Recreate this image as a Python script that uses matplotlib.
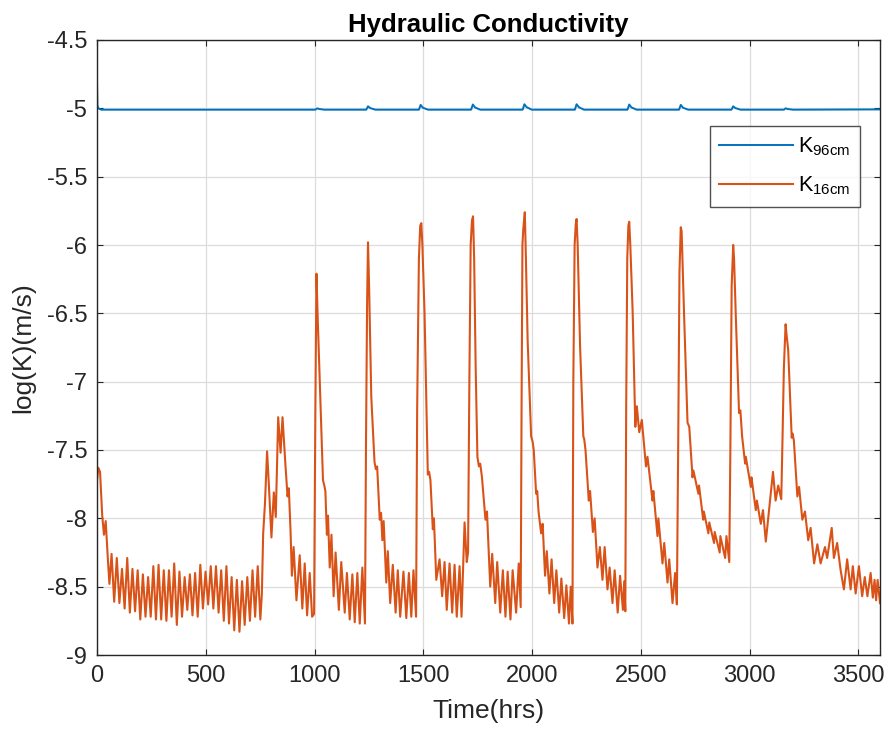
import matplotlib
matplotlib.use("Agg")
import matplotlib.pyplot as plt
from matplotlib.ticker import FuncFormatter, MultipleLocator

plt.rcParams['font.family'] = ['Liberation Sans', 'DejaVu Sans']
plt.rcParams['mathtext.fontset'] = 'custom'
plt.rcParams['mathtext.rm'] = 'Liberation Sans'
plt.rcParams['mathtext.it'] = 'Liberation Sans:italic'
plt.rcParams['axes.unicode_minus'] = False

# ---- K at 96 cm depth (hours, log10 K) ----
k96_hours = [0, 2, 6, 20,
             1004, 1013, 1022, 1045,
             1238, 1246, 1256, 1280,
             1480, 1488, 1498, 1522,
             1720, 1728, 1738, 1762,
             1957, 1965, 1975, 1999,
             2197, 2205, 2215, 2239,
             2439, 2447, 2457, 2481,
             2676, 2684, 2694, 2718,
             2917, 2925, 2935, 2959,
             3158, 3166, 3176, 3200,
             3600]
k96_logk = [-4.80, -4.98, -5.00, -5.010,
            -5.010, -5.000, -5.005, -5.010,
            -5.010, -4.985, -4.998, -5.010,
            -5.010, -4.975, -4.995, -5.010,
            -5.010, -4.972, -4.993, -5.010,
            -5.010, -4.970, -4.991, -5.010,
            -5.010, -4.970, -4.991, -5.010,
            -5.010, -4.972, -4.993, -5.010,
            -5.010, -4.975, -4.995, -5.010,
            -5.010, -4.985, -4.998, -5.010,
            -5.010, -5.000, -5.005, -5.010,
            -5.008]

# ---- K at 16 cm depth, one list of (hours, log10 K) per wetting cycle ----
k16_dry = [(0, -7.72), (6, -7.63), (14, -7.66), (24, -7.98), (32, -8.12), (40, -8.02),
           (50, -8.30), (57, -8.48),
           (67, -8.26), (79, -8.61), (91, -8.29), (103, -8.62), (115, -8.37), (127, -8.66),
           (139, -8.29), (151, -8.69), (163, -8.37), (175, -8.68), (187, -8.38), (199, -8.74),
           (211, -8.41), (223, -8.72), (235, -8.43), (247, -8.72), (259, -8.35), (271, -8.74),
           (283, -8.34), (295, -8.74), (307, -8.38), (319, -8.75), (331, -8.38), (343, -8.72),
           (355, -8.33), (367, -8.78), (379, -8.39), (391, -8.72), (403, -8.43), (415, -8.67),
           (427, -8.41), (439, -8.71), (451, -8.40), (463, -8.72), (475, -8.34), (487, -8.66),
           (499, -8.39), (511, -8.63), (523, -8.35), (535, -8.66), (547, -8.35), (559, -8.69),
           (571, -8.38), (583, -8.75), (595, -8.35), (607, -8.77), (619, -8.43), (631, -8.82),
           (643, -8.45), (655, -8.83), (667, -8.46), (679, -8.78), (691, -8.43), (703, -8.75),
           (715, -8.38), (727, -8.72), (739, -8.35), (751, -8.74)]
k16_event1 = [(758, -8.55), (764, -8.11), (772, -7.90), (782, -7.51), (790, -7.75), (802, -8.14),
              (813, -7.81), (822, -7.99), (833, -7.26), (844, -7.52), (853, -7.26), (866, -7.60),
              (876, -7.84), (882, -7.78), (890, -8.10), (896, -8.42), (904, -8.21), (917, -8.60),
              (932, -8.27), (944, -8.66), (955, -8.33), (966, -8.71), (978, -8.40), (989, -8.72),
              (998, -8.70)]
k16_event2 = [(1004, -7.20), (1009, -6.21), (1014, -6.50), (1024, -6.99), (1039, -7.72),
              (1045, -7.76), (1050, -7.80), (1057, -8.12), (1062, -7.98), (1070, -8.36),
              (1078, -8.12), (1088, -8.57), (1097, -8.25), (1112, -8.67), (1123, -8.32),
              (1139, -8.69), (1149, -8.40), (1162, -8.74), (1174, -8.41), (1185, -8.76),
              (1197, -8.40), (1208, -8.77), (1220, -8.36), (1232, -8.77)]
k16_event3 = [(1237, -7.40), (1242, -6.40), (1246, -5.98), (1251, -6.30), (1261, -7.11),
              (1276, -7.59), (1282, -7.64), (1288, -7.62), (1300, -8.01), (1306, -7.96),
              (1312, -8.16), (1318, -8.02), (1330, -8.47), (1337, -8.24), (1348, -8.62),
              (1360, -8.34), (1373, -8.69), (1383, -8.38), (1394, -8.72), (1409, -8.39),
              (1422, -8.73), (1434, -8.40), (1445, -8.72), (1455, -8.38), (1467, -8.72)]
k16_event4 = [(1472, -7.20), (1480, -6.10), (1486, -5.86), (1491, -5.84), (1496, -6.00),
              (1506, -6.50), (1521, -7.68), (1527, -7.66), (1533, -7.72), (1544, -8.08),
              (1549, -8.00), (1560, -8.45), (1575, -8.30), (1587, -8.57), (1598, -8.32),
              (1608, -8.67), (1621, -8.33), (1633, -8.69), (1644, -8.34), (1654, -8.72),
              (1667, -8.35), (1676, -8.72), (1690, -8.03), (1700, -8.32), (1706, -8.25)]
k16_event5 = [(1712, -7.00), (1718, -6.00), (1724, -5.82), (1729, -5.79), (1734, -6.10),
              (1741, -6.90), (1749, -7.55), (1756, -7.62), (1762, -7.60), (1770, -7.70),
              (1786, -8.01), (1793, -7.95), (1808, -8.50), (1817, -8.26), (1831, -8.62),
              (1840, -8.32), (1854, -8.69), (1866, -8.38), (1878, -8.72), (1888, -8.39),
              (1901, -8.74), (1911, -8.38), (1927, -8.69), (1939, -8.33), (1948, -8.65)]
k16_event6 = [(1952, -7.20), (1956, -6.00), (1960, -5.88), (1967, -5.76), (1972, -6.10),
              (1980, -6.70), (1996, -7.40), (2003, -7.44), (2008, -7.50), (2019, -7.82),
              (2024, -7.80), (2030, -7.95), (2042, -8.11), (2049, -8.04), (2060, -8.42),
              (2068, -8.24), (2080, -8.55), (2090, -8.30), (2102, -8.62), (2112, -8.38),
              (2125, -8.69), (2135, -8.44), (2148, -8.73), (2158, -8.49), (2170, -8.77),
              (2178, -8.50), (2186, -8.77)]
k16_event7 = [(2190, -7.00), (2196, -6.00), (2201, -5.85), (2205, -5.81), (2210, -6.00),
              (2221, -6.74), (2236, -7.40), (2240, -7.42), (2246, -7.50), (2261, -7.87),
              (2267, -7.80), (2280, -8.10), (2288, -8.00), (2301, -8.36), (2312, -8.21),
              (2324, -8.45), (2334, -8.21), (2347, -8.52), (2357, -8.36), (2370, -8.62),
              (2380, -8.38), (2394, -8.69), (2405, -8.42), (2418, -8.67), (2424, -8.46),
              (2429, -8.68)]
k16_event8 = [(2433, -7.20), (2438, -6.10), (2443, -5.86), (2447, -5.83), (2452, -6.00),
              (2463, -6.50), (2475, -7.33), (2482, -7.18), (2493, -7.37), (2505, -7.28),
              (2524, -7.62), (2531, -7.55), (2554, -7.87), (2558, -7.80), (2577, -8.13),
              (2581, -8.00), (2600, -8.33), (2608, -8.18), (2623, -8.47), (2631, -8.30),
              (2646, -8.62), (2658, -8.40), (2666, -8.63)]
k16_event9 = [(2672, -7.50), (2678, -6.20), (2684, -5.87), (2688, -5.90), (2699, -6.50),
              (2715, -7.30), (2723, -7.33), (2738, -7.70), (2742, -7.65), (2765, -7.82),
              (2768, -7.76), (2787, -8.01), (2790, -7.95), (2811, -8.11), (2815, -8.03),
              (2837, -8.18), (2840, -8.10), (2863, -8.25), (2866, -8.13), (2888, -8.29),
              (2894, -8.13), (2907, -8.32)]
k16_event10 = [(2912, -7.50), (2918, -6.30), (2925, -6.00), (2929, -6.10), (2937, -6.52),
               (2952, -7.23), (2958, -7.21), (2966, -7.40), (2980, -7.60), (2983, -7.55),
               (3006, -7.77), (3009, -7.70), (3029, -7.94), (3034, -7.87), (3052, -8.04),
               (3062, -7.94), (3075, -8.17), (3090, -7.94), (3108, -7.66), (3120, -7.87),
               (3132, -7.76), (3146, -7.86)]
k16_event11 = [(3152, -7.40), (3158, -6.90), (3166, -6.58), (3170, -6.65), (3178, -6.77),
               (3194, -7.41), (3198, -7.38), (3204, -7.43), (3220, -7.84), (3228, -7.77),
               (3243, -8.01), (3255, -7.95), (3270, -8.16), (3281, -8.07), (3297, -8.33),
               (3312, -8.19), (3327, -8.33), (3347, -8.21), (3357, -8.29), (3378, -8.07),
               (3388, -8.29), (3403, -8.18), (3419, -8.38), (3434, -8.52), (3449, -8.30),
               (3465, -8.52), (3475, -8.35), (3488, -8.55), (3503, -8.35), (3518, -8.57),
               (3530, -8.43), (3542, -8.57), (3557, -8.40), (3567, -8.58), (3575, -8.45),
               (3582, -8.60), (3589, -8.45), (3600, -8.62)]

k16_cycles = [k16_dry, k16_event1, k16_event2, k16_event3, k16_event4, k16_event5,
              k16_event6, k16_event7, k16_event8, k16_event9, k16_event10, k16_event11]
k16_hours = [t for seg in k16_cycles for t, _ in seg]
k16_logk = [v for seg in k16_cycles for _, v in seg]

x_ticks = [0, 500, 1000, 1500, 2000, 2500, 3000, 3500]

ink = '#262626'
fig = plt.figure(figsize=(8.88, 7.33), dpi=100)
ax = fig.add_axes([97 / 888, 1 - 655 / 733, 783 / 888, 615 / 733])

ax.plot(k96_hours, k96_logk, color='#0072BD', lw=1.4, label=r'K$_{\mathrm{96cm}}$')
ax.plot(k16_hours, k16_logk, color='#D95319', lw=1.5, label=r'K$_{\mathrm{16cm}}$')

ax.set_xlim(0, 3600)
ax.set_ylim(-9, -4.5)
ax.set_xticks(x_ticks)
ax.yaxis.set_major_locator(MultipleLocator(0.5))
ax.yaxis.set_major_formatter(FuncFormatter(lambda v, p: '%g' % v))

ax.grid(True, color='#dcdcdc', lw=0.9)
ax.set_axisbelow(True)
for s in ax.spines.values():
    s.set_color(ink)
    s.set_linewidth(1.0)
ax.tick_params(direction='in', length=4, width=0.8, colors=ink, labelsize=17,
               top=True, right=True, pad=7)

ax.set_title('Hydraulic Conductivity', fontsize=18.5, fontweight='bold', color='black', pad=6)
ax.set_xlabel('Time(hrs)', fontsize=19, color=ink, labelpad=9)
ax.set_ylabel('log(K)(m/s)', fontsize=19, color=ink, labelpad=8)

leg = ax.legend(loc='upper right', bbox_to_anchor=(0.9745, 0.860), borderaxespad=0,
                fontsize=15.5, handlelength=3.4, frameon=True, fancybox=False,
                borderpad=0.45, labelspacing=0.75, handletextpad=0.25)
leg.get_frame().set_edgecolor(ink)
leg.get_frame().set_linewidth(1.0)

fig.savefig('out.png', dpi=100)
